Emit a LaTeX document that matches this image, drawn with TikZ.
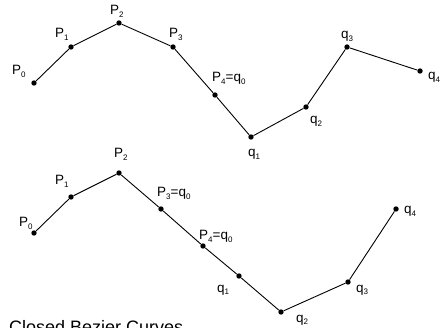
\documentclass[tikz,border=0pt]{standalone}
\usepackage{fontspec}
\setmainfont{Liberation Sans}
\newcommand{\lowsub}[1]{\raisebox{-0.35ex}{\fontsize{8}{8}\selectfont #1}}
\tikzset{
  ctrl/.style={circle, fill=black, inner sep=0pt, minimum size=5.4pt},
  poly/.style={draw=black, line width=0.9pt},
  ptlabel/.style={anchor=base west, inner sep=0pt, font=\fontsize{13.5}{14}\selectfont},
  caption/.style={anchor=base west, inner sep=0pt, font=\fontsize{18}{20}\selectfont}
}
\begin{document}
\begin{tikzpicture}[x=1pt,y=-1pt]
\useasboundingbox (0,0) rectangle (446,328);
\clip (0,0) rectangle (446,328);
\fill[white] (0,0) rectangle (446,328);

% upper curve: P0..P4 and q0..q4 share P4 = q0
\node[ctrl] (a0) at (34,83) {};
\node[ctrl] (a1) at (71,47) {};
\node[ctrl] (a2) at (119,23) {};
\node[ctrl] (a3) at (173,47) {};
\node[ctrl] (a4) at (215,95) {};
\node[ctrl] (b1) at (251,137) {};
\node[ctrl] (b2) at (306,107) {};
\node[ctrl] (b3) at (347,47) {};
\node[ctrl] (b4) at (420,71) {};
\draw[poly] (a0) -- (a1) -- (a2) -- (a3) -- (a4) -- (b1) -- (b2) -- (b3) -- (b4);

\node[ptlabel] (la0) at (12,75) {P\lowsub{0}};
\node[ptlabel] (la1) at (55,38) {P\lowsub{1}};
\node[ptlabel] (la2) at (110,15) {P\lowsub{2}};
\node[ptlabel] (la3) at (169,38) {P\lowsub{3}};
\node[ptlabel] (la4) at (212,82) {P\lowsub{4}=q\lowsub{0}};
\node[ptlabel] (lb1) at (248,157) {q\lowsub{1}};
\node[ptlabel] (lb2) at (310,124) {q\lowsub{2}};
\node[ptlabel] (lb3) at (341,39) {q\lowsub{3}};
\node[ptlabel] (lb4) at (428,80) {q\lowsub{4}};

% lower curve: P3, P4 and q1 collinear
\node[ctrl] (c0) at (34,233) {};
\node[ctrl] (c1) at (71,197) {};
\node[ctrl] (c2) at (119,173) {};
\node[ctrl] (c3) at (161,209) {};
\node[ctrl] (c4) at (203,246) {};
\node[ctrl] (d1) at (239,276) {};
\node[ctrl] (d2) at (281,312) {};
\node[ctrl] (d3) at (348,282) {};
\node[ctrl] (d4) at (396,209) {};
\draw[poly] (c0) -- (c1) -- (c2) -- (c3) -- (c4) -- (d1) -- (d2) -- (d3) -- (d4);

\node[ptlabel] (lc0) at (19,227) {P\lowsub{0}};
\node[ptlabel] (lc1) at (55,185) {P\lowsub{1}};
\node[ptlabel] (lc2) at (114,158) {P\lowsub{2}};
\node[ptlabel] (lc3) at (157,197) {P\lowsub{3}=q\lowsub{0}};
\node[ptlabel] (lc4) at (199,240) {P\lowsub{4}=q\lowsub{0}};
\node[ptlabel] (ld1) at (217,292) {q\lowsub{1}};
\node[ptlabel] (ld2) at (296,322) {q\lowsub{2}};
\node[ptlabel] (ld3) at (356,292) {q\lowsub{3}};
\node[ptlabel] (ld4) at (404,214) {q\lowsub{4}};

\node[caption] (title) at (9,333) {Closed Bezier Curves};
\end{tikzpicture}
\end{document}
